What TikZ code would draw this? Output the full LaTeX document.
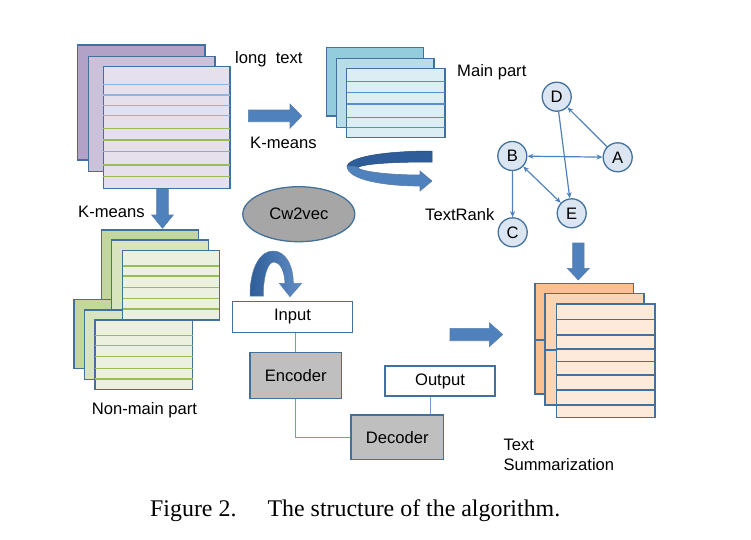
\documentclass[tikz,border=0pt]{standalone}
\usepackage{fontspec}
\setmainfont{Liberation Serif}
\setsansfont{Liberation Sans}
\usetikzlibrary{arrows.meta,shapes.geometric}
\definecolor{bord}{HTML}{41719C}
\definecolor{pur1}{HTML}{B3A2C7}
\definecolor{pur2}{HTML}{CCC1DA}
\definecolor{pur3}{HTML}{E6E0EC}
\definecolor{grn1}{HTML}{C3D69B}
\definecolor{grn2}{HTML}{D7E4BD}
\definecolor{grn3}{HTML}{EBF1DE}
\definecolor{cy1}{HTML}{93CDDD}
\definecolor{cy2}{HTML}{B7DEE8}
\definecolor{cy3}{HTML}{DBEEF4}
\definecolor{or1}{HTML}{FAC090}
\definecolor{or2}{HTML}{FCD5B5}
\definecolor{or3}{HTML}{FDEADA}
\definecolor{bline}{HTML}{8EB4E3}
\definecolor{bline2}{HTML}{558ED5}
\definecolor{gline}{HTML}{9BBB59}
\definecolor{arrfill}{HTML}{4F81BD}
\definecolor{arrdark}{HTML}{2F5D99}
\definecolor{edgec}{HTML}{4F81BD}
\definecolor{nodefill}{HTML}{DCE6F2}
\definecolor{graybox}{HTML}{BFBFBF}
\definecolor{grayell}{HTML}{A6A6A6}
\begin{document}
\begin{tikzpicture}[x=1pt,y=-1pt,
  sheet/.style={draw=bord,line width=1.4pt},
  lab/.style={font=\sffamily\fontsize{16.6}{19.5}\selectfont,inner sep=0pt,anchor=west},
  blockarrow/.style={fill=arrfill,draw=arrdark!80,line width=0.6pt},
  gnode/.style={circle,draw=bord,fill=nodefill,line width=1.3pt,minimum size=29pt,inner sep=0pt,font=\sffamily\fontsize{16.6}{19.5}\selectfont},
  boxw/.style={draw=bord,line width=1.3pt,fill=white,font=\sffamily\fontsize{16.6}{19.5}\selectfont,inner sep=0pt},
  boxg/.style={draw=bord,line width=1.3pt,fill=graybox,font=\sffamily\fontsize{16.6}{19.5}\selectfont,inner sep=0pt},
  gedge/.style={draw=edgec,line width=1.2pt},
  conn/.style={draw=edgec!80,line width=0.9pt},
  tipa/.style={-{Stealth[length=6pt,width=5pt]}},
  tipb/.style={{Stealth[length=6pt,width=5pt]}-{Stealth[length=6pt,width=5pt]}}
]
\path[use as bounding box] (0,0) rectangle (751,539);

% ---------- long text (purple stack)
\filldraw[sheet,fill=pur1] (77.3,45) rectangle (205,160);
\filldraw[sheet,fill=pur2] (88.3,56.7) rectangle (215,171.7);
\filldraw[sheet,fill=pur3] (103.3,66.7) rectangle (230,188.3);
\foreach \y in {84.3,95,105.7,115.7}{\draw[bline,line width=1.2pt] (103.3,\y) -- (230,\y);}
\foreach \y in {128.3,140,151.7,165,176.7}{\draw[gline,line width=1.2pt] (103.3,\y) -- (230,\y);}
\node[lab] (longtext) at (235,59.3) {long\ \ text};

% ---------- main part (cyan stack)
\filldraw[sheet,fill=cy1] (326.7,47.3) rectangle (423.3,116);
\filldraw[sheet,fill=cy2] (336.7,58.3) rectangle (434,127.3);
\filldraw[sheet,fill=cy3] (346.7,68.3) rectangle (445,137.3);
\foreach \y in {81.7,92.7,104,117.3,127.3}{\draw[bline2,line width=1.2pt] (346.7,\y) -- (445,\y);}
\node[lab] (mainpart) at (457,72) {Main part};

% ---------- K-means right arrow
\path[blockarrow] (248.3,110) -- (290,110) -- (290,104) -- (301.7,116) -- (290,128.3) -- (290,121.7) -- (248.3,121.7) -- cycle;
\node[lab] (km1) at (250,142.7) {K-means};

% ---------- K-means down arrow
\path[blockarrow] (156.7,189.5) -- (168.3,189.5) -- (168.3,215) -- (173.3,215) -- (162.5,228.3) -- (151.7,215) -- (156.7,215) -- cycle;
\node[lab] (km2) at (78,211.7) {K-means};

% ---------- Non-main part (green stacks)
\filldraw[sheet,fill=grn1] (74,299.3) rectangle (170.7,368.7);
\filldraw[sheet,fill=grn2] (84.3,310) rectangle (181,379.3);
\filldraw[sheet,fill=grn1] (101.7,230) rectangle (198.3,299.3);
\filldraw[sheet,fill=grn2] (111.7,240) rectangle (208.3,309.3);
\filldraw[sheet,fill=grn3] (122.7,250.7) rectangle (219.3,320);
\foreach \y in {266,276,287.3,298.3,309}{\draw[gline,line width=1.2pt] (122.7,\y) -- (219.3,\y);}
\filldraw[sheet,fill=grn3] (95,320) rectangle (192.7,389.3);
\foreach \y in {335.7,345.7,356.7,368.3,379}{\draw[gline,line width=1.2pt] (95,\y) -- (192.7,\y);}
\node[lab] (nonmain) at (91.7,410) {Non-main part};

% ---------- curved arrow under main part
\path[fill=arrdark,draw=arrdark!80!black,line width=0.5pt] (432,151) .. controls (385,151) and (347,157) .. (347,167)
  -- (357,168) .. controls (362,163.5) and (395,162) .. (432,162) -- cycle;
\path[blockarrow] (347,166) .. controls (347,180) and (385,186) .. (420,186) -- (420,191) -- (432,181) -- (420,171) -- (420,175)
  .. controls (392,175) and (360,172) .. (357,167) -- cycle;
\node[lab] (textrank) at (425,214.3) {TextRank};

% ---------- graph
\node[gnode] (D) at (556.7,96.7) {D};
\node[gnode] (B) at (512.3,156) {B};
\node[gnode] (A) at (617.7,157.3) {A};
\node[gnode] (E) at (571.7,213.3) {E};
\node[gnode] (C) at (512.7,232.3) {C};
\draw[gedge,tipa] (A) -- (D);
\draw[gedge,tipa] (D) -- (E);
\draw[gedge,tipb] (B) -- (A);
\draw[gedge,tipb] (B) -- (E);
\draw[gedge,tipa] (B) -- (C);

% ---------- Cw2vec
\node[ellipse,draw=bord,line width=1.3pt,fill=grayell,minimum width=112pt,minimum height=55pt,inner sep=0pt,font=\sffamily\fontsize{16.6}{19.5}\selectfont] (cw) at (298.8,214.2) {Cw2vec};
\shade[left color=arrdark,right color=arrfill!90!white,draw=arrdark!80,line width=0.5pt] (250,296) .. controls (250,266) and (261,251) .. (273,251) .. controls (286,251) and (293.3,266) .. (293.3,283.3)
  -- (301.7,283.3) -- (290,296.7) -- (279.3,283.3) -- (285,283.3) .. controls (284.5,271) and (280,262) .. (274,262)
  .. controls (268,262) and (263.3,275) .. (263.3,296) -- cycle;

% ---------- encoder / decoder
\node[boxw,minimum width=119.6pt,minimum height=30.6pt] (input) at (292.5,317) {Input};
\node[boxg,minimum width=91.7pt,minimum height=45.6pt] (enc) at (295.8,375.5) {Encoder};
\node[boxw,minimum width=110pt,minimum height=30pt] (out) at (440,381) {Output};
\node[boxg,minimum width=92.3pt,minimum height=44.3pt] (dec) at (397.2,437.2) {Decoder};
\draw[conn] (input.south -| enc.north) -- (enc.north);
\draw[conn] (enc.south) |- (dec.west);
\draw[conn] ([xshift=33pt]dec.north) -- ([xshift=33pt]dec.north |- out.south);

% ---------- arrow to summary
\path[blockarrow] (450,328.3) -- (489.3,328.3) -- (489.3,322.7) -- (502.7,334.5) -- (489.3,346.7) -- (489.3,340.7) -- (450,340.7) -- cycle;

% ---------- down arrow above summary
\path[blockarrow] (572.7,243) -- (584,243) -- (584,268.3) -- (589.3,268.3) -- (578.3,280) -- (567.3,268.3) -- (572.7,268.3) -- cycle;

% ---------- summary (orange stack)
\filldraw[sheet,fill=or1] (535,283.3) rectangle (633.3,394);
\draw[sheet] (535,340) -- (546,340);
\filldraw[sheet,fill=or2] (545,293.3) rectangle (644,405);
\draw[sheet] (545,350) -- (557,350);
\filldraw[sheet,fill=or3] (556.7,304) rectangle (655,417.7);
\foreach \y in {319.3,335,349,375,390,405}{\draw[bord,line width=1.2pt] (556.7,\y) -- (655,\y);}
\draw[sheet] (556.7,361.7) -- (655,361.7);
\node[lab] (txt1) at (503.3,445) {Text};
\node[lab] (txt2) at (503.3,465) {Summarization};

% ---------- caption
\node[font=\fontsize{23.9}{28}\selectfont,inner sep=0pt,anchor=base west] (cap) at (150,516.7) {Figure 2.\hspace{1.3em}The structure of the algorithm.};
\end{tikzpicture}
\end{document}
